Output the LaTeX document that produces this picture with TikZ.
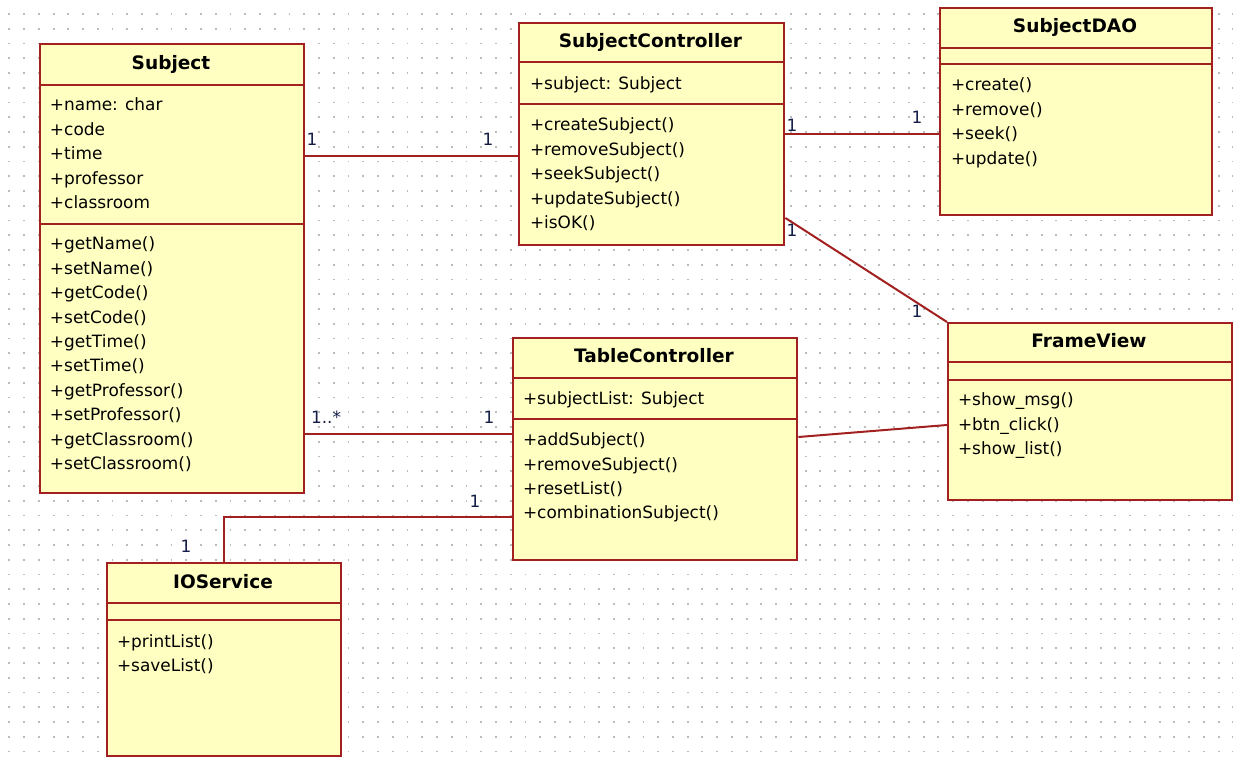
\documentclass[tikz,border=0pt]{standalone}
\usepackage{fontspec}
\setmainfont{DejaVu Sans}

\definecolor{umlfill}{RGB}{255,255,194}
\definecolor{umlborder}{RGB}{163,32,32}
\definecolor{multcolor}{RGB}{20,30,70}
\definecolor{griddot}{RGB}{188,188,188}

\begin{document}
\begin{tikzpicture}[x=.75pt,y=-.75pt,line width=1.5 pt,
	classbox/.style 2 args={draw=umlborder,fill=umlfill,anchor=north west,inner sep=0pt,
		line width=1.8pt,minimum width=#1*.75pt,minimum height=#2*.75pt},
	divider/.style={draw=umlborder,line width=1.8pt},
	classtitle/.style={anchor=base,inner sep=0pt,font=\fontsize{13.9}{16}\selectfont\bfseries},
	member/.style={anchor=base west,inner sep=0pt,font=\fontsize{12.7}{15}\selectfont},
	mult/.style={anchor=base,inner sep=0pt,text=multcolor,font=\fontsize{12.7}{15}\selectfont},
	assoc/.style={draw=umlborder},
	griddots/.style={draw=griddot,line width=1.4pt,dash pattern=on 1.4pt off 9.66pt}]
	\useasboundingbox (0,0) rectangle (1233,763);
	\foreach \r in {0,...,50}
		\draw[griddots] (8.4,{14+14.75*\r}) -- (1233,{14+14.75*\r});

	\node[classbox={264}{449}] (subject) at (39,43) {};
	\draw[divider] (subject.west |- 0,85) -- (subject.east |- 0,85);
	\draw[divider] (subject.west |- 0,224) -- (subject.east |- 0,224);
	\node[classtitle] (subject-t) at (171,70) {Subject};
	\foreach \m [count=\i] in {+name: char,+code,+time,+professor,+classroom}
		\node[member] (subject-a\i) at (49,{86.6+24.4*\i}) {\m};
	\foreach \m [count=\i] in {+getName(),+setName(),+getCode(),+setCode(),+getTime(),
		+setTime(),+getProfessor(),+setProfessor(),+getClassroom(),+setClassroom()}
		\node[member] (subject-m\i) at (49,{225.6+24.4*\i}) {\m};

	\node[classbox={265}{222}] (sc) at (518,22) {};
	\draw[divider] (sc.west |- 0,62) -- (sc.east |- 0,62);
	\draw[divider] (sc.west |- 0,104) -- (sc.east |- 0,104);
	\node[classtitle] (sc-t) at (650.5,48) {SubjectController};
	\node[member] (sc-a1) at (529,90) {+subject: Subject};
	\foreach \m [count=\i] in {+createSubject(),+removeSubject(),+seekSubject(),
		+updateSubject(),+isOK()}
		\node[member] (sc-m\i) at (529,{106.6+24.4*\i}) {\m};

	\node[classbox={272}{207}] (dao) at (939,7) {};
	\draw[divider] (dao.west |- 0,48) -- (dao.east |- 0,48);
	\draw[divider] (dao.west |- 0,64) -- (dao.east |- 0,64);
	\node[classtitle] (dao-t) at (1075,33) {SubjectDAO};
	\foreach \m [count=\i] in {+create(),+remove(),+seek(),+update()}
		\node[member] (dao-m\i) at (950,{66.6+24.4*\i}) {\m};

	\node[classbox={284}{177}] (fv) at (947,322) {};
	\draw[divider] (fv.west |- 0,362) -- (fv.east |- 0,362);
	\draw[divider] (fv.west |- 0,380) -- (fv.east |- 0,380);
	\node[classtitle] (fv-t) at (1089,348) {FrameView};
	\foreach \m [count=\i] in {+show\_msg(),+btn\_click(),+show\_list()}
		\node[member] (fv-m\i) at (957,{381.6+24.2*\i}) {\m};

	\node[classbox={284}{222}] (tc) at (512,337) {};
	\draw[divider] (tc.west |- 0,378) -- (tc.east |- 0,378);
	\draw[divider] (tc.west |- 0,419) -- (tc.east |- 0,419);
	\node[classtitle] (tc-t) at (654,363) {TableController};
	\node[member] (tc-a1) at (522,404) {+subjectList: Subject};
	\foreach \m [count=\i] in {+addSubject(),+removeSubject(),+resetList(),
		+combinationSubject()}
		\node[member] (tc-m\i) at (522,{421.6+24.2*\i}) {\m};

	\node[classbox={234}{193}] (io) at (106,562) {};
	\draw[divider] (io.west |- 0,603) -- (io.east |- 0,603);
	\draw[divider] (io.west |- 0,620) -- (io.east |- 0,620);
	\node[classtitle] (io-t) at (223,588) {IOService};
	\foreach \m [count=\i] in {+printList(),+saveList()}
		\node[member] (io-m\i) at (116,{622.6+24.4*\i}) {\m};

	\draw[assoc] (subject.east |- 0,156) -- (sc.west |- 0,156);
	\draw[assoc] (sc.east) -- (sc.east -| dao.west);
	\draw[assoc] (sc.east |- 0,218) -- (fv.north west);
	\draw[assoc] (subject.east |- 0,434) -- (tc.west |- 0,434);
	\draw[assoc] (tc.east |- 0,437) -- (fv.west |- 0,425);
	\draw[assoc] (tc.west |- 0,517) -| (io.north);

	\node[mult] (m-subject-sc) at (312,146) {1};
	\node[mult] (m-sc-subject) at (488,146) {1};
	\node[mult] (m-sc-dao) at (792,132) {1};
	\node[mult] (m-dao-sc) at (917,124) {1};
	\node[mult] (m-sc-fv) at (792,237) {1};
	\node[mult] (m-fv-sc) at (917,318) {1};
	\node[mult] (m-subject-tc) at (326,423) {1..*};
	\node[mult] (m-tc-subject) at (489,423) {1};
	\node[mult] (m-tc-io) at (475,507) {1};
	\node[mult] (m-io-tc) at (186,552) {1};
 \end{tikzpicture}
\end{document}
